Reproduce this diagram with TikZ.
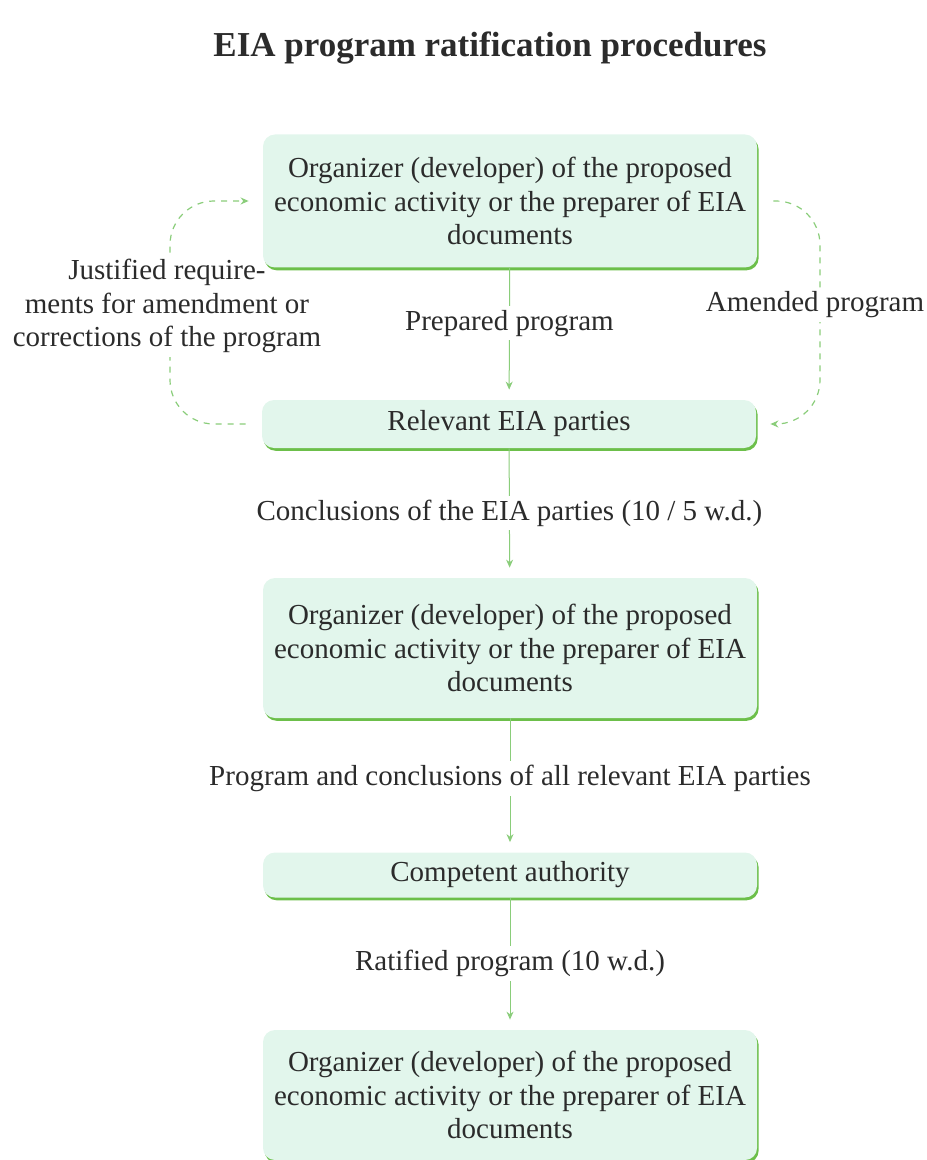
\documentclass[tikz,border=0pt]{standalone}
\usepackage{fontspec}
\setmainfont{Liberation Serif}
\usepackage{xcolor}
\usetikzlibrary{arrows.meta, positioning, calc, shadows}

\definecolor{boxfill}{HTML}{E2F6EC}
\definecolor{edgegreen}{HTML}{6CBF4A}
\definecolor{linegreen}{HTML}{8ACD7A}
\definecolor{inktext}{HTML}{2B2B2B}

\pgfdeclarelayer{back}
\pgfsetlayers{back,main}

\begin{document}
\begin{tikzpicture}[x=0.5pt, y=-0.5pt,
    stage/.style={rounded corners=6pt, fill=boxfill, minimum width=247pt,
        align=center, text=inktext, font=\fontsize{14.5}{16.75}\selectfont,
        drop shadow={fill=edgegreen, opacity=1, shadow xshift=0.8pt, shadow yshift=-1.4pt}},
    lbl/.style={fill=white, text=inktext, align=center, inner sep=2pt,
        font=\fontsize{14.5}{16.75}\selectfont},
    flow/.style={draw=linegreen, line width=0.5pt, shorten >=5pt,
        -{Stealth[length=4pt, width=3.5pt]}},
    loopline/.style={draw=linegreen, line width=0.6pt, dashed, rounded corners=22pt,
        shorten <=8pt, shorten >=7pt, -{Stealth[length=4pt, width=3.5pt]}}]
    \useasboundingbox (0,0) rectangle (926,1160);

    \node[font=\fontsize{17.5}{20}\selectfont\bfseries, text=inktext] (title) at (490,48)
        {EIA program ratification procedures};

    % boxes
    \node[stage, minimum height=66.5pt] (organizer) at (510,201)
        {Organizer (developer) of the proposed\\economic activity or the preparer of EIA\\documents};
    \node[stage, minimum height=24pt] (parties) at (509,424) {Relevant EIA parties};
    \node[stage, minimum height=70pt] (organizerB) at (510,648)
        {Organizer (developer) of the proposed\\economic activity or the preparer of EIA\\documents};
    \node[stage, minimum height=22.5pt] (authority) at (510,875) {Competent authority};
    \node[stage, minimum height=65pt] (organizerC) at (510,1095)
        {Organizer (developer) of the proposed\\economic activity or the preparer of EIA\\documents};

    % loops between developer and parties (behind the boxes)
    \begin{pgfonlayer}{back}
    \draw[loopline] (parties.west) -| (170,310) |- (organizer.west);
    \draw[loopline] (organizer.east) -| (820,310) |- (parties.east);
    \node[lbl] (justified) at (167,306)
        {Justified require-\\ments for amendment or\\corrections of the program};
    \node[lbl] (amended) at (815,305) {Amended program};
    \end{pgfonlayer}

    % main flow
    \draw[flow] (organizer) -- node[lbl, pos=0.42] {Prepared program} (parties);
    \draw[flow] (parties) -- node[lbl, pos=0.5] {Conclusions of the EIA parties (10 / 5 w.d.)} (organizerB);
    \draw[flow] (organizerB) -- node[lbl, pos=0.45] {Program and conclusions of all relevant EIA parties} (authority);
    \draw[flow] (authority) -- node[lbl, pos=0.5] {Ratified program (10 w.d.)} (organizerC);
\end{tikzpicture}
\end{document}
